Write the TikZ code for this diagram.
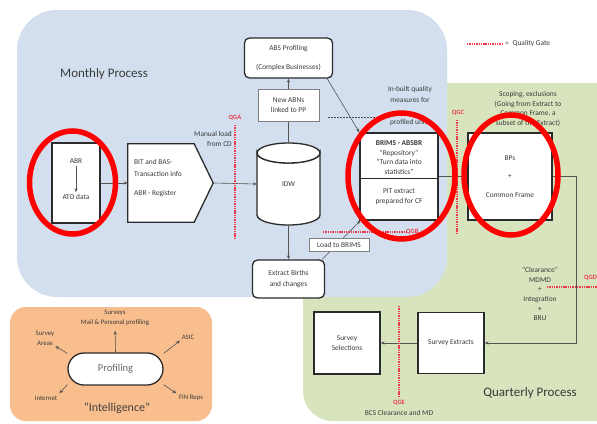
\documentclass[tikz,border=0pt]{standalone}
\usepackage{fontspec}
\setmainfont{Carlito}
\usetikzlibrary{shapes.geometric,arrows.meta}
\definecolor{monthbg}{HTML}{D3DFEE}
\definecolor{quartbg}{HTML}{D7E4BD}
\definecolor{intelbg}{HTML}{F9BE8D}
\definecolor{qgred}{HTML}{EE3A4A}
\definecolor{linegray}{HTML}{555555}
\definecolor{boxline}{HTML}{2B2B2B}
\definecolor{txt}{HTML}{3A3A3A}
\begin{document}
\begin{tikzpicture}[x=1pt,y=-1pt,
  lbl/.style={font=\fontsize{7.4}{9.7}\selectfont, text=txt, align=center, inner sep=0},
  big/.style={font=\fontsize{13}{15}\selectfont, text=txt, inner sep=0},
  mainbox/.style={draw=boxline, line width=1.3pt, fill=white, inner sep=0},
  roundbox/.style={mainbox, rounded corners=5pt},
  thinbox/.style={draw=gray, line width=0.6pt, fill=white, inner sep=0},
  arr/.style={draw=linegray, line width=0.6pt, -{Stealth[length=4pt,width=3.2pt]}},
  qg/.style={draw=qgred, line width=1.3pt, dash pattern=on 1.4pt off 0.9pt},
  qglbl/.style={font=\fontsize{6.5}{8}\selectfont\bfseries, text=qgred, inner sep=0},
  redring/.style={ellipse, draw=red, line width=5.5pt, inner sep=0}]
\fill[white] (0,0) rectangle (597,423);
\useasboundingbox (0,0) rectangle (597,423);
% regions
\fill[quartbg, rounded corners=30pt] (303,83) rectangle (640,421);
\fill[monthbg, rounded corners=40pt] (17,10) rectangle (447,297);
\fill[intelbg, rounded corners=16pt] (10,307) rectangle (212,421);
\node[big] (monthly) at (104,74) {Monthly Process};
\node[big] (quarterly) at (530,393) {Quarterly Process};
% legend
\coordinate (lg1) at (467,44); \coordinate (lg2) at (502,44);
\draw[qg] (lg1) -- (lg2);
\node[lbl, anchor=west] (lgt) at (505,44) {=\enspace Quality Gate};
% ABR box
\node[mainbox, minimum width=48, minimum height=80] (abr) at (76,183) {};
\node[lbl] (abrl) at (76,161) {ABR};
\node[lbl] (ato) at (76,197) {ATO data};
\draw[arr, shorten <=2pt, shorten >=2pt] (abrl) -- (ato);
% BIT pentagon
\node[minimum width=85, minimum height=78, inner sep=0] (bit) at (170.5,183) {};
\draw[draw=boxline, line width=1.3pt, fill=white] (bit.north west) -- ([xshift=-19pt]bit.north east) -- (bit.east) -- ([xshift=-19pt]bit.south east) -- (bit.south west) -- cycle;
\node[lbl, font=\fontsize{7.4}{12}\selectfont, align=left, anchor=west] (bittxt) at (134,178) {BIT and BAS-\\Transaction info\\[7pt]ABR - Register};
\draw[arr] (abr.east) -- (bit.west);
% IDW cylinder
\draw[draw=boxline, line width=1.3pt, fill=white] (257,153) -- (257,215) arc[start angle=180, end angle=0, x radius=31.5, y radius=10] -- (320,153) arc[start angle=0, end angle=180, x radius=31.5, y radius=10] -- cycle;
\draw[draw=boxline, line width=1.3pt, fill=white] (288.5,153) ellipse [x radius=31.5, y radius=10];
\node[lbl, minimum width=63, minimum height=82] (idw) at (288.5,184) {IDW};
\draw[arr] (bit.east) -- (idw.west);
\node[lbl, anchor=east, align=right] (manual) at (232,139) {Manual load\\from CD};
% ABS profiling
\node[roundbox, lbl, minimum width=88, minimum height=40] (absprof) at (288.5,58) {ABS Profiling\\[9pt](Complex Businesses)};
\draw[arr] (idw.north) -- (absprof.south);
\node[thinbox, lbl, minimum width=61, minimum height=32] (newabn) at (288.5,105) {New ABNs\\linked to PP};
% BRIMS
\node[mainbox, minimum width=78, minimum height=87] (brims) at (399,176.5) {};
\draw[draw=boxline, line width=1pt] (brims.west |- 0,178) -- (brims.east |- 0,178);
\node[lbl] (brimsup) at (399,157.5) {\textbf{BRIMS - ABSBR}\\“Repository”\\“Turn data into\\statistics”};
\node[lbl] (brimslo) at (399,196.5) {PIT extract\\prepared for CF};
\draw[arr] ([xshift=-6pt]absprof.south east) -- (brims.north west);
\coordinate (ib1) at (328,117); \coordinate (ib2) at (385,117);
\draw[draw=black!70, line width=1pt, dash pattern=on 2pt off 1pt] (ib1) -- (ib2);
\node[lbl, font=\fontsize{7.4}{11}\selectfont] (inbuilt) at (410,106.5) {In-built quality\\measures for\\[11pt]profiled units};
% births
\node[roundbox, lbl, font=\fontsize{7.4}{11.5}\selectfont, minimum width=72, minimum height=38] (births) at (288.5,279) {Extract Births\\and changes};
\draw[arr] (idw.south) -- (births.north);
\draw[arr] ([xshift=-3pt]births.north east) -- ([xshift=1pt]brims.south west);
\node[thinbox, lbl, minimum width=60, minimum height=13] (load) at (339,244.5) {Load to BRIMS};
% BPs
\node[mainbox, lbl, minimum width=84, minimum height=87] (bps) at (510,176.5) {BPs\\[9pt]+\\[9pt]Common Frame};
\draw[arr] (brims.east) -- (bps.west);
\node[lbl] (scoping) at (528,109) {Scoping, exclusions\\(Going from Extract to\\Common Frame, a\\subset of the Extract)};
\node[lbl] (clear) at (540,294) {“Clearance”\\MDMD\\+\\Integration\\+\\BRU};
% survey boxes
\node[mainbox, lbl, minimum width=66, minimum height=61] (survext) at (451,343) {Survey Extracts};
\node[mainbox, lbl, minimum width=66, minimum height=62] (survsel) at (347,343) {Survey\\Selections};
\coordinate (bend) at (576,176.5);
\draw[arr] (bps.east) -- (bend) |- (survext.east);
\draw[arr] (survext.west) -- (survsel.east);
% quality gates
\coordinate (qga1) at (235,125); \coordinate (qga2) at (235,238);
\draw[qg] (qga1) -- (qga2);
\node[qglbl] (qga) at (235,118) {QGA};
\coordinate (qgb1) at (323,232); \coordinate (qgb2) at (406,232);
\draw[qg] (qgb1) -- (qgb2);
\node[qglbl, anchor=west] (qgb) at (406,232) {QGB};
\coordinate (qgc1) at (457,120); \coordinate (qgc2) at (457,233);
\draw[qg] (qgc1) -- (qgc2);
\node[qglbl] (qgc) at (458,113) {QGC};
\coordinate (qgd1) at (547,287); \coordinate (qgd2) at (600,287);
\draw[qg] (qgd1) -- (qgd2);
\node[qglbl, anchor=west] (qgd) at (584,278) {QGD};
\coordinate (qge1) at (399,306); \coordinate (qge2) at (399,398);
\draw[qg] (qge1) -- (qge2);
\node[qglbl] (qge) at (399,403) {QGE};
\node[lbl] (bcs) at (399,413) {BCS Clearance and MD};
% intelligence
\node[draw=boxline, line width=1.3pt, fill=white, rounded corners=16pt, minimum width=95, minimum height=32, inner sep=0, font=\fontsize{10.5}{12}\selectfont, text=black!60] (prof) at (115.5,369) {Profiling};
\node[lbl, font=\fontsize{6.8}{9.5}\selectfont] (surveys) at (115,318) {Surveys\\Mail \& Personal profiling};
\node[lbl, font=\fontsize{6.8}{9.5}\selectfont] (areas) at (45,338.5) {Survey\\Areas};
\node[lbl, font=\fontsize{6.8}{9.5}\selectfont] (asic) at (188,337) {ASIC};
\node[lbl, font=\fontsize{6.8}{9.5}\selectfont] (internet) at (46,398) {Internet};
\node[lbl, font=\fontsize{6.8}{9.5}\selectfont] (finreps) at (191,398) {FIN Reps};
\node[lbl, font=\fontsize{12}{14}\selectfont, text=black!75] (intel) at (117,408) {“Intelligence”};
\draw[arr, shorten >=5pt] (prof.north) -- (surveys.south);
\draw[arr, shorten >=1pt] (prof.162) -- (areas.south east);
\draw[arr, shorten >=2pt] (prof.18) -- (asic.south west);
\draw[arr, shorten >=3pt] (prof.198) -- (internet.north east);
\draw[arr, shorten >=3pt] (prof.-18) -- (finreps.north west);
% red rings
\node[redring, minimum width=86, minimum height=103] (ring1) at (72.5,182.5) {};
\node[redring, minimum width=107, minimum height=126] (ring2) at (401.5,176) {};
\node[redring, minimum width=94, minimum height=120] (ring3) at (511,175) {};
\end{tikzpicture}
\end{document}
